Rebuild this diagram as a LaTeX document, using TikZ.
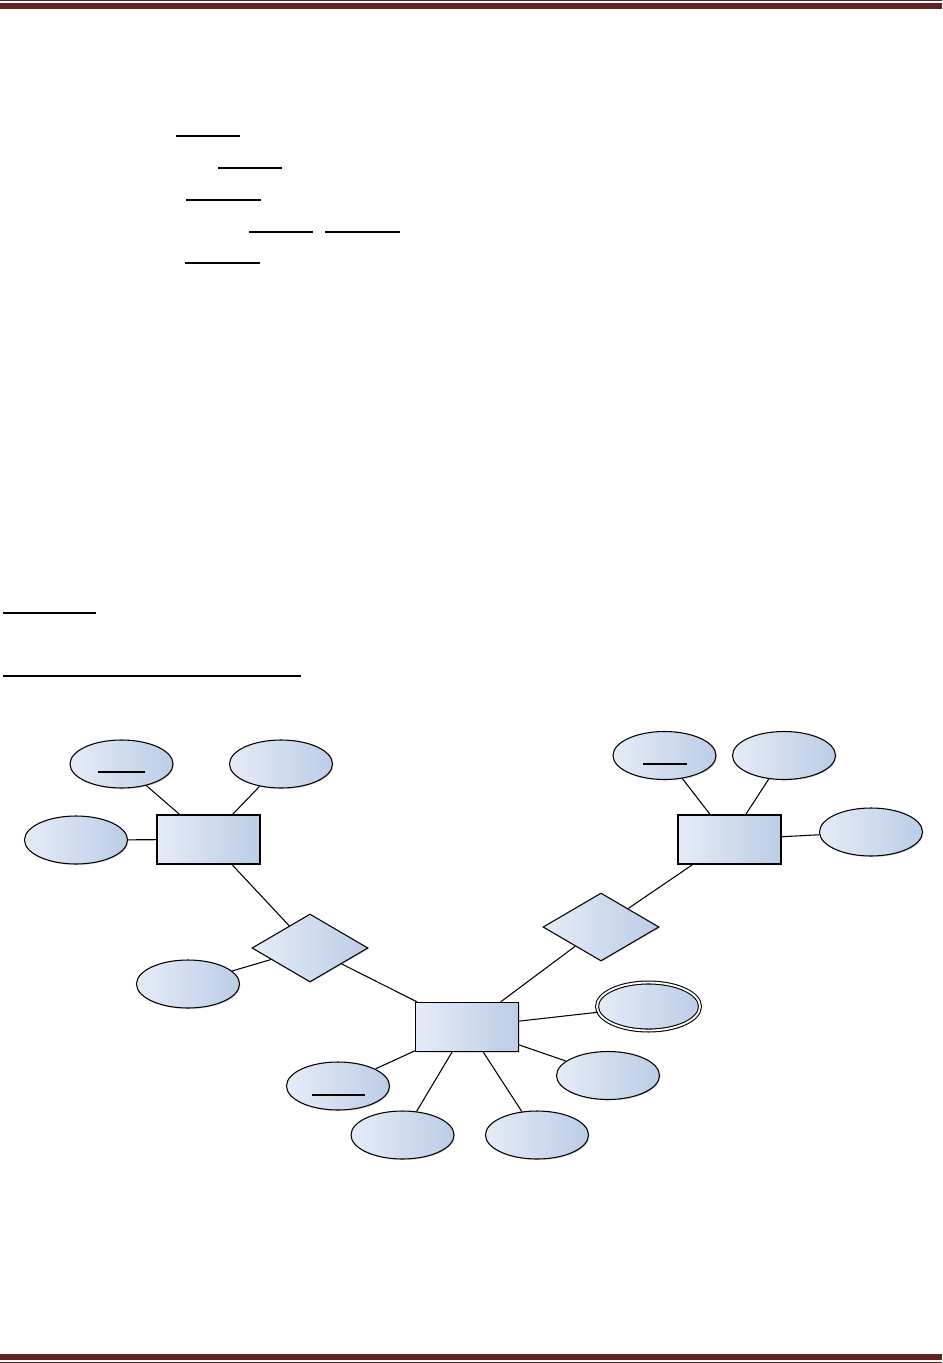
\documentclass[tikz,border=0pt]{standalone}
\usetikzlibrary{positioning,shapes.geometric,shadows,calc}
\definecolor{hdrred}{RGB}{98,36,35}
\definecolor{erlight}{RGB}{229,236,247}
\definecolor{erdark}{RGB}{188,205,230}
\begin{document}
\begin{tikzpicture}[x=0.75pt,y=-0.75pt,
every node/.style={draw,line width=0.8pt,inner sep=0pt,left color=erlight,right color=erdark,
  drop shadow={opacity=0.25,shadow xshift=0.8pt,shadow yshift=-0.8pt}},
entity/.style={rectangle,minimum width=77.25pt,minimum height=36.75pt},
attrib/.style={ellipse,minimum width=77.25pt,minimum height=36pt},
multi/.style={attrib,double=white,double distance=1.4pt},
relation/.style={diamond,aspect=1.7,minimum width=87pt,minimum height=51pt},
link/.style={line width=0.8pt},
keyline/.style={line width=0.8pt},
rule/.style={line width=2pt}]
\useasboundingbox (0,0) rectangle (942,1363);
% page frame
\fill[hdrred] (0,0) rectangle (942,1.2);
\fill[hdrred] (0,2.8) rectangle (942,9);
\fill[hdrred] (0,1354) rectangle (942,1359.7);
\fill[hdrred] (0,1361.8) rectangle (942,1363);
% underlines of the text block
\draw[rule] (176,136) -- (240,136);
\draw[rule] (218,168) -- (282,168);
\draw[rule] (186,200) -- (261,200);
\draw[rule] (249,232) -- (313,232);
\draw[rule] (325,232) -- (400,232);
\draw[rule] (185,263) -- (260,263);
\draw[rule] (3,613) -- (96,613);
\draw[rule] (3,676) -- (301,676);
% left entity
\node[entity] (entl) at (208.5,839.5) {};
\node[attrib] (keyl) at (121.5,764) {};
\node[attrib] (attl) at (281,764) {};
\node[attrib] (attlw) at (76,840) {};
\node[relation] (rell) at (310,948) {};
\node[attrib] (attrel) at (188,984) {};
% right entity
\node[entity] (entr) at (729.5,839.5) {};
\node[attrib] (keyr) at (664.5,755.5) {};
\node[attrib] (attr) at (784,755.5) {};
\node[attrib] (attre) at (871,832) {};
\node[relation] (relr) at (601,927) {};
% middle entity
\node[entity] (entm) at (467,1027) {};
\node[multi] (multm) at (648.5,1006.5) {};
\node[attrib] (attme) at (608,1075.5) {};
\node[attrib] (attmr) at (537,1135) {};
\node[attrib] (attml) at (402.5,1135) {};
\node[attrib] (keym) at (338,1086) {};
% key underlines
\draw[keyline] ($(keyl.center)+(-23.5,8)$) -- ++(47,0);
\draw[keyline] ($(keyr.center)+(-22,8.5)$) -- ++(44,0);
\draw[keyline] ($(keym.center)+(-26,9)$) -- ++(53,0);
% connectors
\draw[link] (keyl) -- (entl);
\draw[link] (attl) -- (entl);
\draw[link] (attlw) -- (entl);
\draw[link] (entl) -- (rell);
\draw[link] (attrel) -- (rell);
\draw[link] (rell) -- (entm);
\draw[link] (keyr) -- (entr);
\draw[link] (attr) -- (entr);
\draw[link] (attre) -- (entr);
\draw[link] (entr) -- (relr);
\draw[link] (relr) -- (entm);
\draw[link] (multm) -- (entm);
\draw[link] (attme) -- (entm);
\draw[link] (attmr) -- (entm);
\draw[link] (attml) -- (entm);
\draw[link] (keym) -- (entm);
\end{tikzpicture}
\end{document}
